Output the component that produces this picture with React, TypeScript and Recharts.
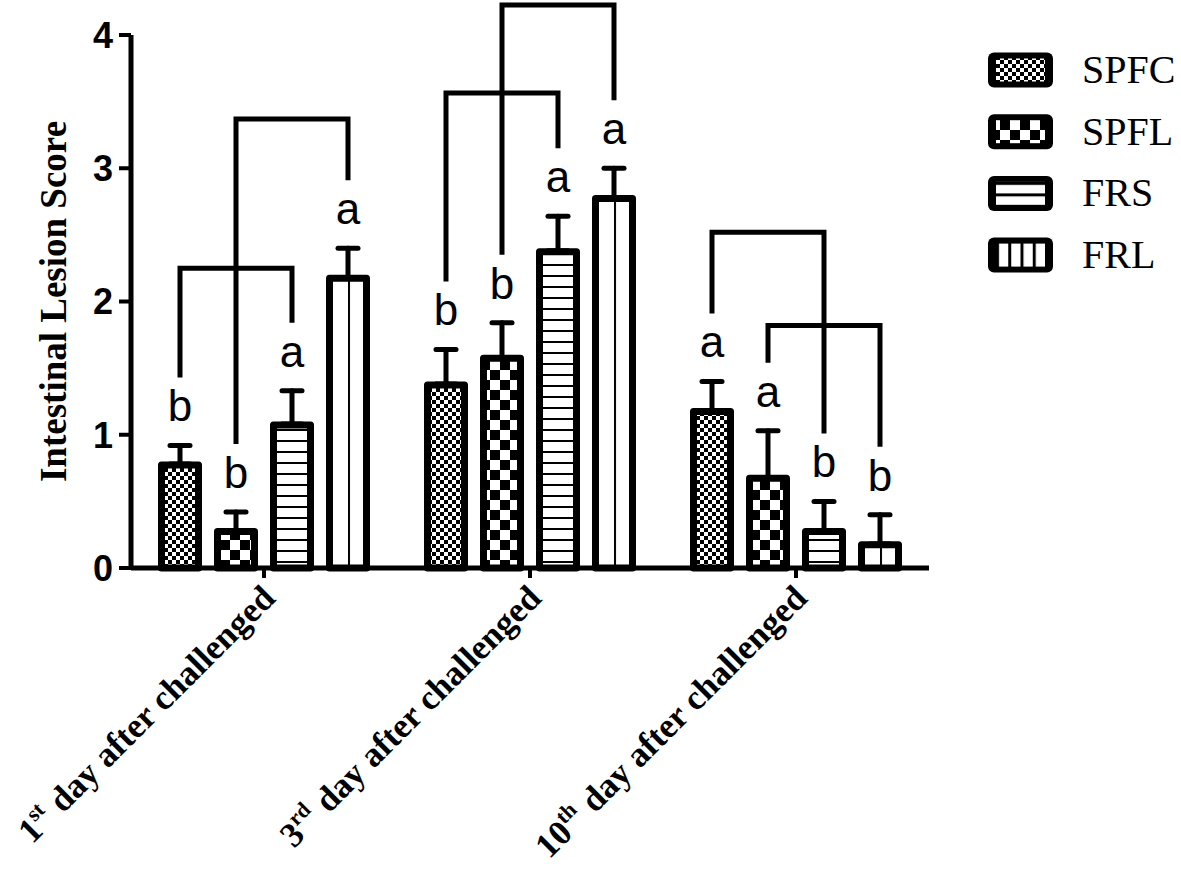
import { Bar, BarChart, ErrorBar, XAxis, YAxis } from "recharts";

const days = ["1st", "3rd", "10th"];
const seriesNames = ["SPFC", "SPFL", "FRS", "FRL"];

const spfc = [0.8, 1.4, 1.2];
const spfl = [0.3, 1.6, 0.7];
const frs = [1.1, 2.4, 0.3];
const frl = [2.2, 2.8, 0.2];

const spfcErr = [0.12, 0.24, 0.2];
const spflErr = [0.12, 0.24, 0.33];
const frsErr = [0.23, 0.24, 0.2];
const frlErr = [0.2, 0.2, 0.2];

const spfcSig = ["b", "b", "a"];
const spflSig = ["b", "b", "a"];
const frsSig = ["a", "a", "b"];
const frlSig = ["a", "a", "b"];

// comparison brackets (score level of the horizontal line)
const bracketSpfcFrs = [2.25, 3.565, 2.52];
const bracketSpflFrl = [3.37, 4.225, 1.82];

const yTicks = [0, 1, 2, 3, 4];

const keys = ["spfc", "spfl", "frs", "frl"];
const values = [spfc, spfl, frs, frl];
const errors = [spfcErr, spflErr, frsErr, frlErr];
const sigs = [spfcSig, spflSig, frsSig, frlSig];
const brackets = [bracketSpfcFrs, bracketSpflFrl];

// only the upper whisker is shown; the tiny lower part hides the bottom cap inside the bar border
const HIDDEN_LOWER = 0.02;

const chartData = days.map((day, i) => {
  const row: Record<string, any> = { day };
  keys.forEach((k, s) => {
    row[k] = values[s][i];
    row[k + "Err"] = [HIDDEN_LOWER, errors[s][i]];
    row[k + "Sig"] = sigs[s][i];
  });
  brackets.forEach((b, s) => {
    row["bracket" + s] = b[i];
  });
  return row;
});

const BAR_SIZE = 44;
const BAR_GAP = 12;
const BORDER = 7;
const serif = "'Liberation Serif', 'Times New Roman', serif";
const sans = "'Liberation Sans', Arial, sans-serif";

function barShape(s: number) {
  const key = keys[s];
  return (props: any) => {
    const { x, y, width, height, payload } = props;
    const v = payload[key];
    const ppu = height / v;
    const base = y + height;
    const cx = x + width / 2;
    const capY = base - (v + payload[key + "Err"][1]) * ppu;
    let bracket = null;
    if (s < 2) {
      const pk = keys[s + 2];
      const capR = base - (payload[pk] + payload[pk + "Err"][1]) * ppu;
      const levelY = base - payload["bracket" + s] * ppu;
      const cxR = cx + 2 * (width + BAR_GAP);
      bracket = (
        <path
          d={`M${cx},${capY - 68}V${levelY}H${cxR}V${capR - 68}`}
          fill="none"
          stroke="#000"
          strokeWidth={5}
        />
      );
    }
    return (
      <g>
        <rect
          x={x + BORDER / 2}
          y={y + BORDER / 2}
          width={width - BORDER}
          height={Math.max(height - BORDER / 2, 0)}
          fill={`url(#pat-${key})`}
          stroke="#000"
          strokeWidth={BORDER}
          strokeLinejoin="round"
        />
        <text x={cx} y={capY - 24} textAnchor="middle" fontSize={44} fontFamily={sans} fill="#000">
          {payload[key + "Sig"]}
        </text>
        {bracket}
      </g>
    );
  };
}

function DayTick(props: any) {
  const { x, y, payload } = props;
  const m = /^(\d+)(\D+)$/.exec(payload.value) || ["", payload.value, ""];
  return (
    <g transform={`translate(${x + 13},${y + 20}) rotate(-45)`}>
      <text textAnchor="end" fontFamily={serif} fontWeight="bold" fontSize={35} fill="#000">
        <tspan>{m[1]}</tspan>
        <tspan dy={-14} fontSize={22}>{m[2]}</tspan>
        <tspan dy={14} dx={10}>day after challenged</tspan>
      </text>
    </g>
  );
}

function Patterns() {
  return (
    <defs>
      <pattern id="pat-spfc" patternUnits="userSpaceOnUse" width={8} height={8}>
        <rect width={8} height={8} fill="#fff" />
        <rect width={4} height={4} fill="#000" />
        <rect x={4} y={4} width={4} height={4} fill="#000" />
      </pattern>
      <pattern id="pat-spfl" patternUnits="userSpaceOnUse" width={20} height={20}>
        <rect width={20} height={20} fill="#fff" />
        <rect width={10} height={10} fill="#000" />
        <rect x={10} y={10} width={10} height={10} fill="#000" />
      </pattern>
      <pattern id="pat-frs" patternUnits="userSpaceOnUse" width={10} height={11}>
        <rect width={10} height={11} fill="#fff" />
        <rect width={10} height={2} fill="#000" />
      </pattern>
      <pattern id="pat-frl" patternUnits="objectBoundingBox" width={0.5} height={1}>
        <rect width={1000} height={2000} fill="#fff" />
        <rect width={2} height={2000} fill="#000" />
      </pattern>
      <pattern id="leg-frs" patternUnits="objectBoundingBox" width={1} height={0.5}>
        <rect width={1000} height={1000} fill="#fff" />
        <rect width={1000} height={3} fill="#000" />
      </pattern>
      <pattern id="leg-frl" patternUnits="objectBoundingBox" width={0.25} height={1}>
        <rect width={1000} height={1000} fill="#fff" />
        <rect width={3} height={1000} fill="#000" />
      </pattern>
    </defs>
  );
}

const legendFill = ["url(#pat-spfc)", "url(#pat-spfl)", "url(#leg-frs)", "url(#leg-frl)"];

export default function App() {
  return (
    <div style={{ position: "absolute", left: 0, top: 0, width: 1181, height: 873, background: "#fff" }}>
      <BarChart
        width={1181}
        height={873}
        data={chartData}
        margin={{ top: 35, right: 252, left: 71, bottom: 0 }}
        barSize={BAR_SIZE}
        barGap={BAR_GAP}
      >
        <XAxis
          dataKey="day"
          height={305}
          tick={<DayTick />}
          tickSize={10}
          axisLine={{ stroke: "#000", strokeWidth: 5 }}
          tickLine={{ stroke: "#000", strokeWidth: 4 }}
          interval={0}
        />
        <YAxis
          type="number"
          domain={[0, 4]}
          ticks={yTicks}
          width={60}
          tickSize={12}
          tickMargin={6}
          axisLine={{ stroke: "#000", strokeWidth: 5 }}
          tickLine={{ stroke: "#000", strokeWidth: 4 }}
          tick={{ fill: "#000", fontSize: 36, fontWeight: "bold", fontFamily: sans }}
          label={(p: any) => {
            const vb = p.viewBox;
            const cy = vb.y + vb.height / 2;
            return (
              <text
                transform={`translate(66,${cy}) rotate(-90)`}
                textAnchor="middle"
                fontFamily={serif}
                fontWeight="bold"
                fontSize={37}
                fill="#000"
              >
                Intestinal Lesion Score
              </text>
            );
          }}
        />
        {keys.map((k, s) => (
          <Bar key={k} dataKey={k} name={seriesNames[s]} shape={barShape(s)} isAnimationActive={false}>
            <ErrorBar
              dataKey={k + "Err"}
              width={10}
              stroke="#000"
              strokeWidth={5}
              strokeLinecap="round"
              isAnimationActive={false}
            />
          </Bar>
        ))}
      </BarChart>
      <svg width={201} height={260} style={{ position: "absolute", left: 980, top: 40 }}>
        <Patterns />
        {seriesNames.map((n, i) => {
          const cy = 30 + i * 61.7;
          return (
            <g key={n}>
              <rect x={8} y={cy - 17.5} width={65} height={35} rx={6} fill="#000" />
              <rect x={16} y={cy - 11.5} width={49} height={23} fill={legendFill[i]} />
              <text x={102} y={cy + 13} fontSize={40} fontFamily={serif} fill="#000">
                {n}
              </text>
            </g>
          );
        })}
      </svg>
    </div>
  );
}
